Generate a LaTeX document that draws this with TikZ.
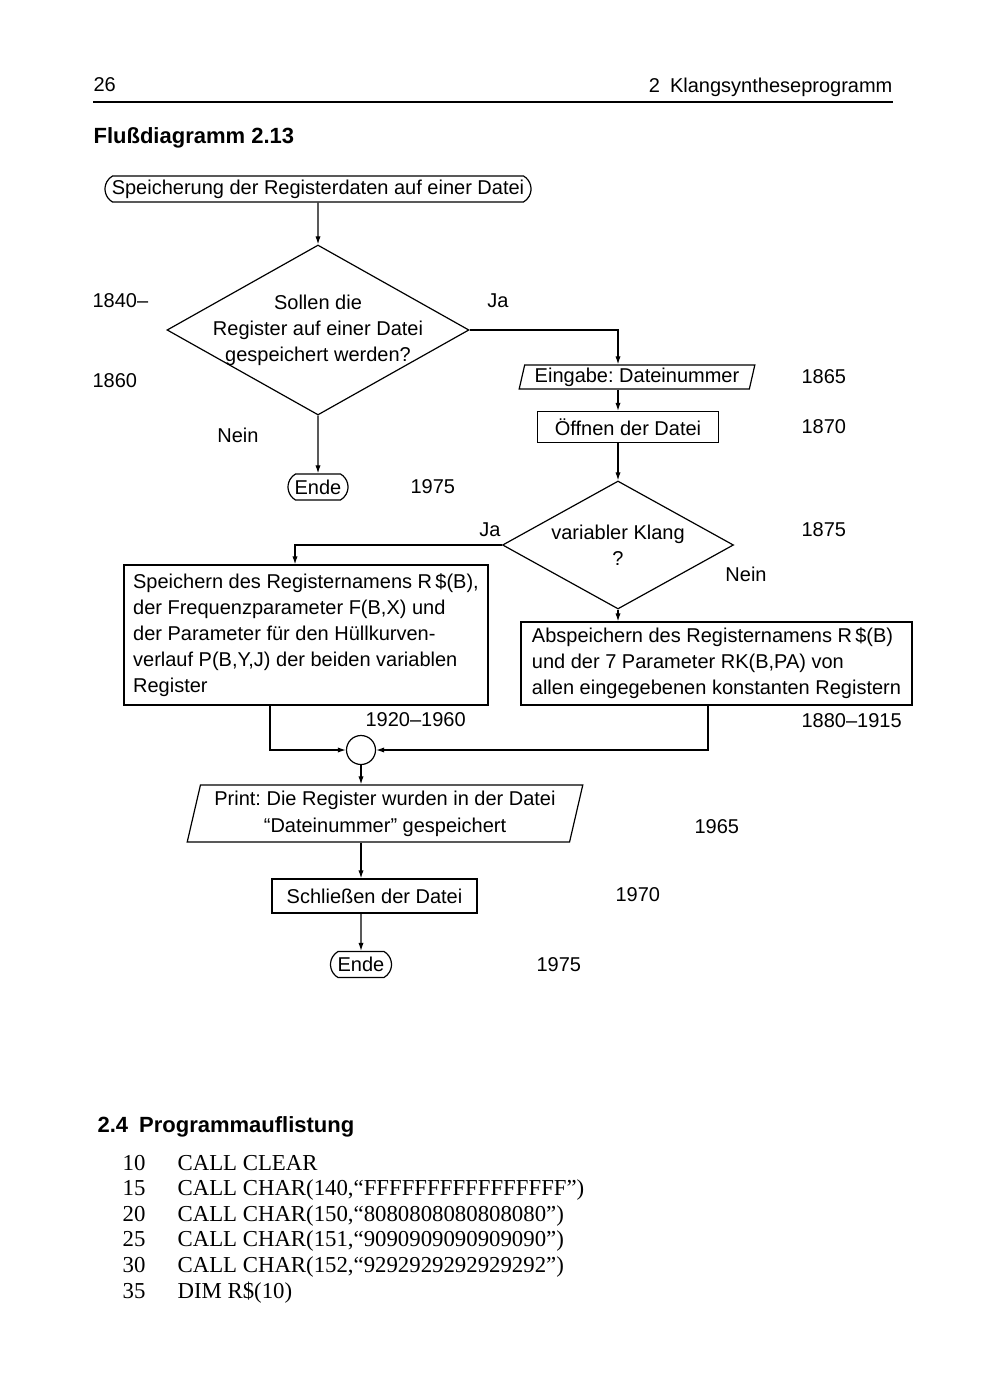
\documentclass[tikz,border=0pt]{standalone}
\usepackage{fontspec}
\setmainfont{Liberation Sans}
\newfontfamily\listfont{Liberation Serif}
\usetikzlibrary{shapes.geometric,shapes.misc,arrows.meta}
\frenchspacing

\begin{document}
\begin{tikzpicture}[x=0.5pt,y=-0.5pt,
  font=\fontsize{10pt}{13pt}\selectfont,
  line width=0.6pt,
  flow/.style={-{Latex[length=4pt,width=2.6pt]}},
  terminal/.style={draw,rounded rectangle,rounded rectangle arc length=120,inner xsep=0pt,inner ysep=0pt,minimum height=13pt},
  block/.style={draw,rectangle,inner sep=0pt},
  io/.style={draw,trapezium,trapezium left angle=75,trapezium right angle=105,trapezium stretches=true,inner sep=0pt},
  decision/.style={draw,diamond,inner sep=0pt},
  num/.style={anchor=west,inner sep=0pt},
  listing/.style={anchor=base west,inner sep=0pt,font=\listfont\fontsize{11.4pt}{12.8pt}\selectfont},
  heading/.style={anchor=west,inner sep=0pt,font=\bfseries\fontsize{11pt}{13pt}\selectfont}]
\fill[white] (0,0) rectangle (1000,1400);
\useasboundingbox (0,0) rectangle (1000,1400);

\node[num] (seite) at (93,85) {26};
\node[anchor=east,inner sep=0pt] (kapitel) at (893,87) {2\enspace Klangsyntheseprogramm};
\coordinate (linie) at (0,102);
\draw[line width=0.9pt] (seite.west |- linie) -- (kapitel.east |- linie);
\node[heading] (titel) at (93,138) {Flußdiagramm 2.13};

\node[terminal,minimum width=213pt] (start) at (318,189) {Speicherung der Registerdaten auf einer Datei};
\node[decision,minimum width=151pt,minimum height=85pt,
  label={[name=frage1text,align=center,inner sep=0pt]center:Sollen die\\Register auf einer Datei\\gespeichert werden?}] (frage1) at (318,330) {};
\node[terminal,minimum width=30pt] (ende1) at (318,487) {Ende};
\node[io,minimum width=118pt,minimum height=12pt] (eingabe) at (637,377) {Eingabe: Dateinummer};
\node[block,minimum width=90.5pt,minimum height=15.5pt] (oeffnen) at (628,427) {Öffnen der Datei};
\node[decision,minimum width=115.5pt,minimum height=64pt,
  label={[name=frage2text,align=center,inner sep=0pt]center:variabler Klang\\?}] (frage2) at (618,545) {};
\node[block,align=left,minimum width=182pt,minimum height=70pt] (links) at (306,635)
  {Speichern des Registernamens R\,\$(B),\\der Frequenzparameter F(B,X) und\\der Parameter für den Hüllkurven-\\verlauf P(B,Y,J) der beiden variablen\\Register};
\node[block,align=left,minimum width=195.5pt,minimum height=41.5pt] (rechts) at (716.5,663.5)
  {Abspeichern des Registernamens R\,\$(B)\\und der 7 Parameter RK(B,PA) von\\allen eingegebenen konstanten Registern};
\node[draw,circle,minimum size=14.5pt,inner sep=0pt] (knoten) at (361,750) {};
\node[io,align=center,minimum width=198pt,minimum height=28.5pt] (print) at (385,813.5)
  {Print: Die Register wurden in der Datei\\[0.5pt]“Dateinummer” gespeichert};
\node[block,minimum width=102.5pt,minimum height=17pt] (schliessen) at (374.5,896) {Schließen der Datei};
\node[terminal,minimum width=30.5pt] (ende2) at (361,964.5) {Ende};

\draw[flow] (start) -- (frage1);
\draw[flow] (frage1.east) -| (eingabe.north -| frage2.north);
\draw[flow] (eingabe.south -| frage2.north) -- (oeffnen.north -| frage2.north);
\draw[flow] (oeffnen.south -| frage2.north) -- (frage2.north);
\draw[flow] (frage1) -- (ende1);
\draw[flow] (frage2.west) -| ([xshift=-5.5pt]links.north);
\draw[flow] (frage2.south) -- (frage2.south |- rechts.north);
\draw[flow] ([xshift=-18pt]links.south) |- (knoten.west);
\draw[flow] ([xshift=-4.25pt]rechts.south) |- (knoten.east);
\draw[flow] (knoten) -- (knoten |- print.north);
\draw[flow] (print.south -| knoten) -- (schliessen.north -| knoten);
\draw[flow] (schliessen.south -| knoten) -- (ende2);

\node (ja1) at (498,301) {Ja};
\node (nein1) at (238,435) {Nein};
\node (ja2) at (490,530) {Ja};
\node (nein2) at (746,574) {Nein};
\node[num] (z1840) at (92,301) {1840–};
\node[num] (z1860) at (92,381) {1860};
\node[num] (z1975a) at (410,487) {1975};
\node[num] (z1865) at (801,377) {1865};
\node[num] (z1870) at (801,427) {1870};
\node[num] (z1875) at (801,530) {1875};
\node[num] (z1920) at (365,720) {1920–1960};
\node[num] (z1880) at (801,721) {1880–1915};
\node[num] (z1965) at (694,827) {1965};
\node[num] (z1970) at (615,895) {1970};
\node[num] (z1975b) at (536,965) {1975};

\node[heading] (abschnitt) at (97,1127) {2.4\enspace Programmauflistung};
\foreach \nr/\zeile [count=\i from 0] in {10/CALL CLEAR,
  15/{CALL CHAR(140,“FFFFFFFFFFFFFFFF”)},
  20/{CALL CHAR(150,“8080808080808080”)},
  25/{CALL CHAR(151,“9090909090909090”)},
  30/{CALL CHAR(152,“9292929292929292”)},
  35/{DIM R\$(10)}} {
  \node[listing] (nr\nr) at (122,{1170+25.6*\i}) {\nr};
  \node[listing] (zeile\nr) at (177,{1170+25.6*\i}) {\zeile};
}
\end{tikzpicture}
\end{document}
